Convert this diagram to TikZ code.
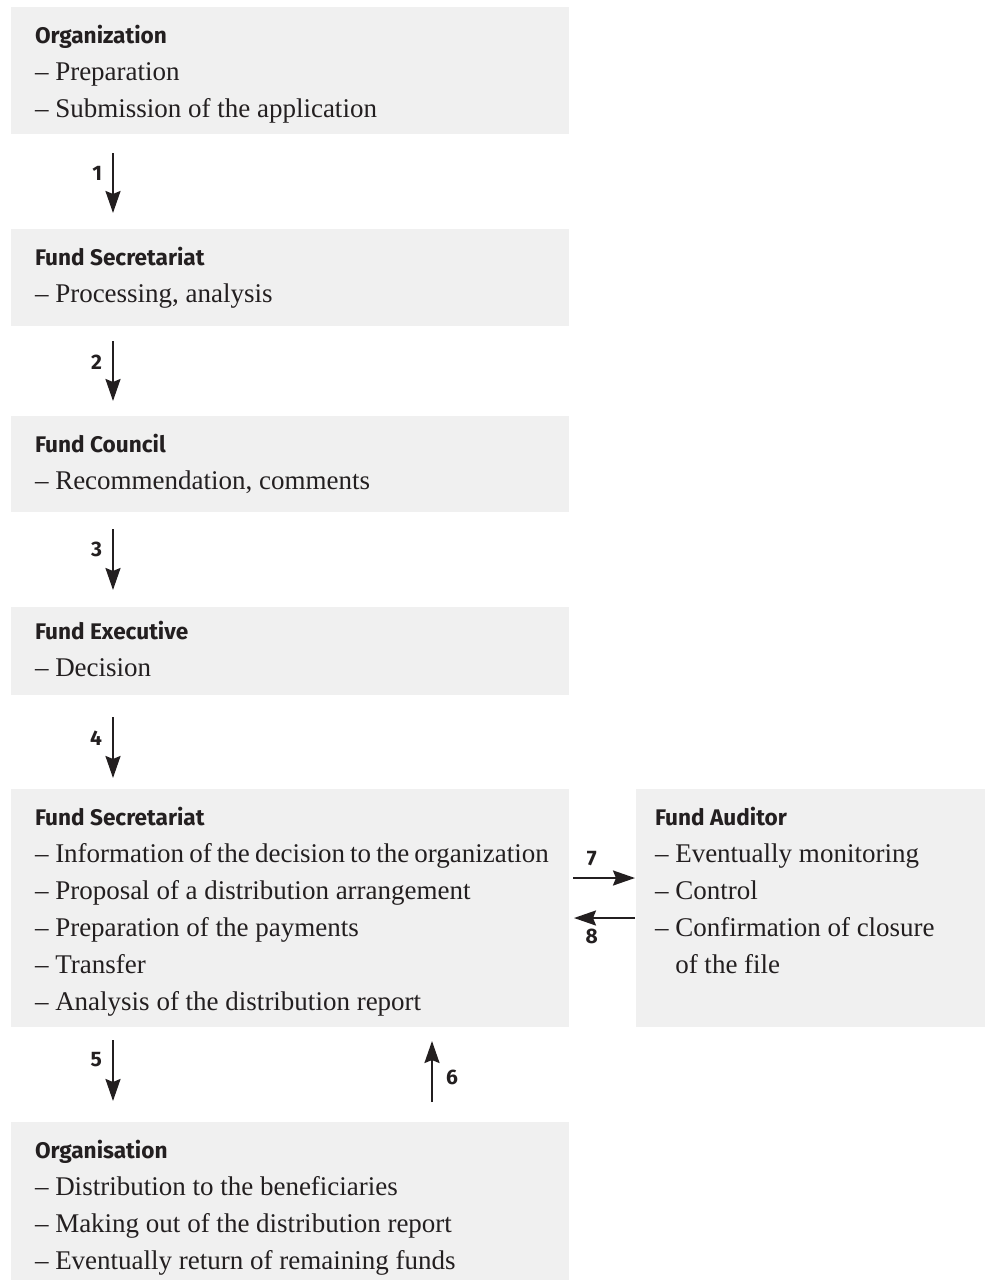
\documentclass[tikz,border=0pt]{standalone}
\usepackage{fontspec}
\setmainfont{Liberation Serif}
\newfontfamily\headfont{Fira Sans}
\usetikzlibrary{arrows.meta}

\definecolor{fdfill}{RGB}{240,240,240}
\definecolor{fdtext}{RGB}{35,31,32}
\definecolor{fdarrow}{RGB}{35,31,32}

\newcommand{\boxhead}[1]{{\headfont\bfseries\fontsize{11.3}{12}\selectfont #1}}

\begin{document}
\begin{tikzpicture}[
  x=0.5pt,
  y=-0.5pt,
  every node/.style={inner sep=0pt, outer sep=0pt},
  panel/.style={fill=fdfill, anchor=north west, minimum width=279pt},
  body/.style={anchor=north west, align=left, text=fdtext, font=\fontsize{13.5}{18.5}\selectfont},
  num/.style={font=\headfont\bfseries\fontsize{10.5}{10.5}\selectfont, text=fdtext},
  flow/.style={draw=fdarrow, line width=1.1pt, -{Stealth[length=11pt, width=7.5pt, inset=1.5pt]}}
]

  \path[use as bounding box] (0,0) rectangle (985,1280);

  % Boxes
  \node[panel, minimum height=63.5pt] (org) at (11,7) {};
  \node[panel, minimum height=48.5pt] (sec) at (11,229) {};
  \node[panel, minimum height=48pt] (council) at (11,416) {};
  \node[panel, minimum height=44pt] (exec) at (11,607) {};
  \node[panel, minimum height=119pt] (secpay) at (11,789) {};
  \node[panel, minimum height=119pt, minimum width=174.5pt] (auditor) at (636,789) {};
  \node[panel, minimum height=79pt] (orgdist) at (11,1122) {};

  % Box texts
  \node[body] (orgtext) at ([shift={(12pt,-9pt)}]org.north west)
    {\boxhead{Organization}\\ – Preparation\\ – Submission of the application};
  \node[body] (sectext) at ([shift={(12pt,-9pt)}]sec.north west)
    {\boxhead{Fund Secretariat}\\ – Processing, analysis};
  \node[body] (counciltext) at ([shift={(12pt,-9pt)}]council.north west)
    {\boxhead{Fund Council}\\ – Recommendation, comments};
  \node[body] (exectext) at ([shift={(12pt,-7pt)}]exec.north west)
    {\boxhead{Fund Executive}\\ – Decision};
  \node[body] (secpaytext) at ([shift={(12pt,-9.25pt)}]secpay.north west)
    {\boxhead{Fund Secretariat}\\ – {\spaceskip=0.19em Information of the decision to the organization}\\
     – Proposal of a distribution arrangement\\ – Preparation of the payments\\
     – Transfer\\ – Analysis of the distribution report};
  \node[body] (auditortext) at ([shift={(9.5pt,-9.25pt)}]auditor.north west)
    {\boxhead{Fund Auditor}\\ – Eventually monitoring\\ – Control\\
     – Confirmation of closure\\ \hphantom{– }of the file};
  \node[body] (orgdisttext) at ([shift={(12pt,-9pt)}]orgdist.north west)
    {\boxhead{Organisation}\\ – Distribution to the beneficiaries\\
     – Making out of the distribution report\\ – Eventually return of remaining funds};

  % Arrows
  \draw[flow, shorten <=9.5pt, shorten >=8pt] ([xshift=51pt]org.south west) -- ([xshift=51pt]sec.north west)
    node[num, pos=0.41, left=5.5pt] (n1) {1};
  \draw[flow, shorten <=7.5pt, shorten >=7.5pt] ([xshift=51pt]sec.south west) -- ([xshift=51pt]council.north west)
    node[num, pos=0.4, left=5.5pt] (n2) {2};
  \draw[flow, shorten <=8.5pt, shorten >=8.5pt] ([xshift=51pt]council.south west) -- ([xshift=51pt]exec.north west)
    node[num, pos=0.39, left=5.5pt] (n3) {3};
  \draw[flow, shorten <=11pt, shorten >=5.5pt] ([xshift=51pt]exec.south west) -- ([xshift=51pt]secpay.north west)
    node[num, pos=0.46, left=5.5pt] (n4) {4};
  \draw[flow, shorten <=6.5pt, shorten >=10.5pt] ([xshift=51pt]secpay.south west) -- ([xshift=51pt]orgdist.north west)
    node[num, pos=0.34, left=5.5pt] (n5) {5};
  \draw[flow, shorten <=10pt, shorten >=7pt] ([xshift=210.5pt]orgdist.north west) -- ([xshift=210.5pt]secpay.south west)
    node[num, pos=0.47, right=7pt] (n6) {6};
  \draw[flow, shorten <=2pt, shorten >=0.5pt] ([yshift=-44.5pt]secpay.north east) -- ([yshift=-44.5pt]auditor.north west)
    node[num, pos=0.34, above=6pt] (n7) {7};
  \draw[flow, shorten <=0.5pt, shorten >=2.5pt] ([yshift=-64.5pt]auditor.north west) -- ([yshift=-64.5pt]secpay.north east)
    node[num, pos=0.66, below=5.5pt] (n8) {8};

\end{tikzpicture}
\end{document}
